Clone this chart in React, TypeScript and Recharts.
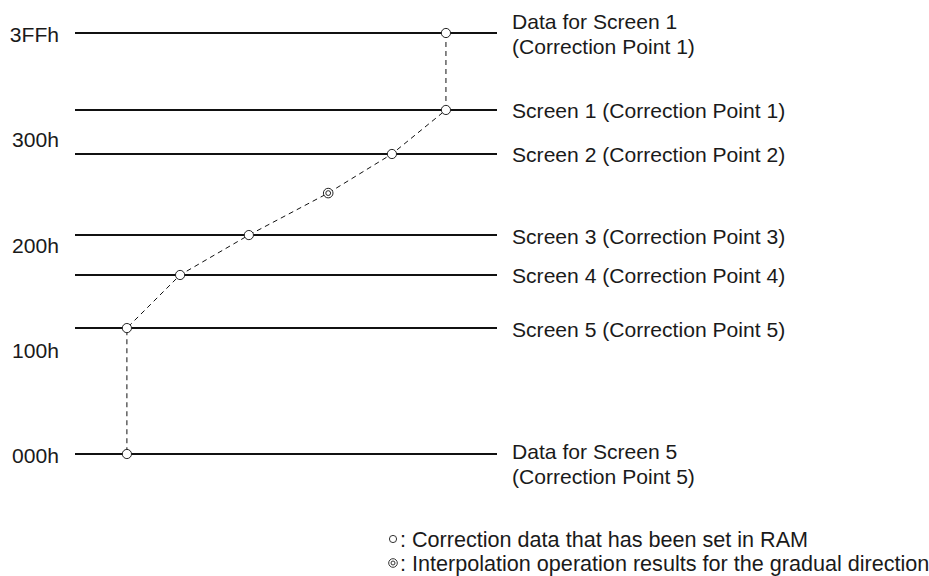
import React from 'react';
import { ComposedChart, Line, XAxis, YAxis, ReferenceLine } from 'recharts';

const yTickValues = [0, 256, 512, 768, 1023];
const yTickLabels = ['000h', '100h', '200h', '300h', '3FFh'];

const levelValues = [1023, 836, 729, 532, 435, 306, 0];
const levelLabels = [
  ['Data for Screen 1', '(Correction Point 1)'],
  ['Screen 1 (Correction Point 1)'],
  ['Screen 2 (Correction Point 2)'],
  ['Screen 3 (Correction Point 3)'],
  ['Screen 4 (Correction Point 4)'],
  ['Screen 5 (Correction Point 5)'],
  ['Data for Screen 5', '(Correction Point 5)'],
];
const levelLabelAnchor = ['center', 'center', 'center', 'center', 'center', 'center', 'top'];

const pathX = [87.9, 87.9, 75.1, 60.0, 41.2, 24.9, 12.3, 12.3];
const pathY = [1023, 836, 729, 634, 532, 435, 306, 0];
const pathKind = ['set', 'set', 'set', 'interp', 'set', 'set', 'set', 'set'];

const legendKinds = ['set', 'interp'];
const legendTexts = [
  ': Correction data that has been set in RAM',
  ': Interpolation operation results for the gradual direction',
];

const pathData = pathX.map((x, i) => ({ x, y: pathY[i], kind: pathKind[i] }));

const FONT = '"Liberation Sans", Arial, Helvetica, sans-serif';
const FS = 21.1;
const LEGEND_FS = 21.6;
const LINE_H = 25;

const LevelLabel = (props: any) => {
  const { viewBox, lines, anchor } = props;
  if (!viewBox) return null;
  const x = viewBox.x + viewBox.width + 15;
  const y = viewBox.y;
  const startY = anchor === 'top' ? y - 2 : y + 1 - ((lines.length - 1) * LINE_H) / 2;
  return (
    <text x={x} y={startY} fontFamily={FONT} fontSize={FS} fill="#1a1a1a">
      {lines.map((t: string, i: number) => (
        <tspan key={i} x={x} y={startY + i * LINE_H} dy="0.355em">
          {t}
        </tspan>
      ))}
    </text>
  );
};

const YTick = (props: any) => {
  const { x, y, payload } = props;
  return (
    <text x={x} y={y + 2} dy="0.355em" textAnchor="end" fontFamily={FONT} fontSize={FS} fill="#1a1a1a">
      {yTickLabels[yTickValues.indexOf(payload.value)] ?? ''}
    </text>
  );
};

const renderDot = (props: any) => {
  const { cx, cy, payload, index } = props;
  if (cx == null || cy == null) return <g key={index} />;
  if (payload.kind === 'interp') {
    return (
      <g key={index}>
        <circle cx={cx} cy={cy} r={4.8} fill="#fff" stroke="#222" strokeWidth={1} />
        <circle cx={cx} cy={cy} r={2.4} fill="#fff" stroke="#222" strokeWidth={1} />
      </g>
    );
  }
  return <circle key={index} cx={cx} cy={cy} r={4.6} fill="#fff" stroke="#222" strokeWidth={1} />;
};

const LegendSymbol = ({ kind, x, y }: { kind: string; x: number; y: number }) =>
  kind === 'interp' ? (
    <g>
      <circle cx={x} cy={y} r={4.3} fill="none" stroke="#333" strokeWidth={1} />
      <circle cx={x} cy={y} r={2} fill="none" stroke="#333" strokeWidth={1} />
    </g>
  ) : (
    <circle cx={x} cy={y} r={3.6} fill="none" stroke="#333" strokeWidth={1} />
  );

export default function App() {
  return (
    <div style={{ position: 'absolute', left: 0, top: 0, width: 929, height: 576, background: '#fff' }}>
      <ComposedChart
        width={929}
        height={576}
        data={pathData}
        margin={{ top: 33, right: 432, bottom: 122, left: 0 }}
      >
        <XAxis type="number" dataKey="x" domain={[0, 100]} hide />
        <YAxis
          type="number"
          domain={[0, 1023]}
          ticks={yTickValues}
          width={75}
          axisLine={false}
          tickLine={false}
          tickSize={0}
          tickMargin={16}
          interval={0}
          tick={<YTick />}
        />
        {levelValues.map((v, i) => (
          <ReferenceLine
            key={i}
            y={v}
            stroke="#111"
            strokeWidth={2}
            ifOverflow="extendDomain"
            label={<LevelLabel lines={levelLabels[i]} anchor={levelLabelAnchor[i]} />}
          />
        ))}
        <Line
          type="linear"
          dataKey="y"
          stroke="#111"
          strokeWidth={1}
          strokeDasharray="5 4"
          dot={renderDot}
          activeDot={false}
          isAnimationActive={false}
        />
      </ComposedChart>
      <svg
        width={929}
        height={576}
        style={{ position: 'absolute', left: 0, top: 0, pointerEvents: 'none' }}
      >
        {legendKinds.map((k, i) => (
          <g key={i}>
            <LegendSymbol kind={k} x={393} y={539 + i * 24} />
            <text x={400} y={539 + i * 24} dy="0.355em" fontFamily={FONT} fontSize={LEGEND_FS} fill="#1a1a1a">
              {legendTexts[i]}
            </text>
          </g>
        ))}
      </svg>
    </div>
  );
}
